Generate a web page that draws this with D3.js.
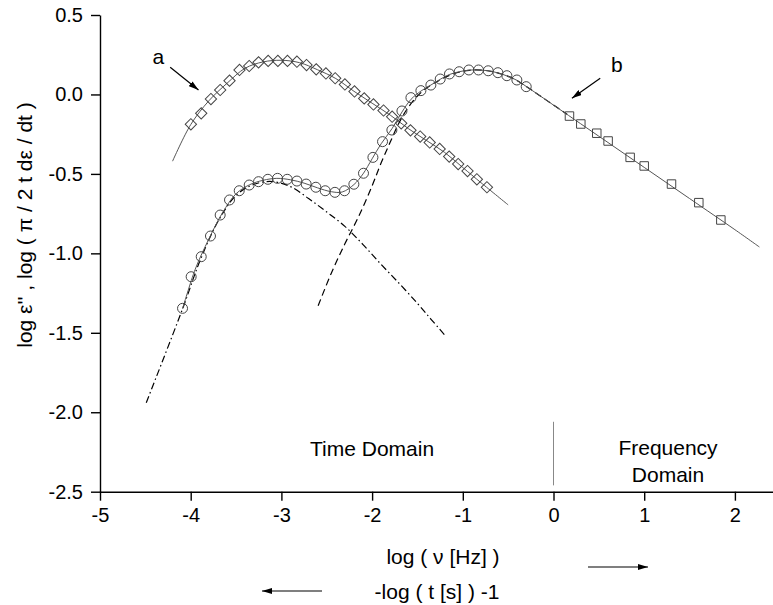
<!DOCTYPE html>
<html>
<head>
<meta charset="utf-8">
<style>
    body { margin: 0; background: #fff; }
    text { font-family: "Liberation Sans", Arial, Helvetica, sans-serif; fill: #000; }
    .axis path, .axis line { stroke: #000; stroke-width: 1.4; }
    .axis text { font-size: 20px; }
</style>
<script src="https://d3js.org/d3.v7.min.js"></script>
</head>
<body>
<div id="chart"></div>
<script>

    // tick labels
    var xTicks = [-5, -4, -3, -2, -1, 0, 1, 2];
    var yTicks = [-2.5, -2.0, -1.5, -1.0, -0.5, 0.0, 0.5];

    // curve a: time domain data (diamonds)
    var diamondX = [-3.998, -3.884, -3.777, -3.675, -3.572, -3.462, -3.355, -3.252, -3.146, -3.039, -2.933,
        -2.829, -2.723, -2.616, -2.509, -2.407, -2.300, -2.194, -2.087, -1.985, -1.874, -1.779, -1.679,
        -1.577, -1.470, -1.365, -1.255, -1.150, -1.051, -0.948, -0.845, -0.734];
    var diamondY = [-0.188, -0.119, -0.029, 0.028, 0.087, 0.154, 0.179, 0.202, 0.211, 0.211, 0.211,
        0.206, 0.185, 0.158, 0.132, 0.102, 0.063, 0.019, -0.025, -0.063, -0.101, -0.140, -0.182,
        -0.226, -0.265, -0.302, -0.343, -0.391, -0.438, -0.482, -0.534, -0.584];

    // curve b: time domain data (circles)
    var circleX = [-4.090, -3.995, -3.884, -3.782, -3.675, -3.572, -3.465, -3.355, -3.252, -3.149, -3.043,
        -2.936, -2.829, -2.727, -2.620, -2.517, -2.410, -2.304, -2.201, -2.095, -1.991, -1.885, -1.782,
        -1.671, -1.572, -1.462, -1.352, -1.249, -1.147, -1.040, -0.933, -0.827, -0.720, -0.613, -0.514,
        -0.404, -0.301];
    var circleY = [-1.346, -1.147, -1.021, -0.891, -0.759, -0.664, -0.606, -0.570, -0.549, -0.534, -0.528,
        -0.534, -0.545, -0.564, -0.584, -0.606, -0.616, -0.606, -0.565, -0.496, -0.396, -0.297, -0.224,
        -0.104, -0.020, 0.024, 0.059, 0.097, 0.129, 0.143, 0.154, 0.154, 0.149, 0.137, 0.118,
        0.091, 0.049];

    // curve b: frequency domain data (squares)
    var squareX = [0.176, 0.301, 0.477, 0.602, 0.845, 1.000, 1.301, 1.602, 1.845];
    var squareY = [-0.136, -0.186, -0.244, -0.293, -0.396, -0.450, -0.564, -0.681, -0.790];

    // fit line through a
    var fitAX = [-4.20, -4.0, -3.8, -3.6, -3.4, -3.2, -3.0, -2.8, -2.6, -2.4, -2.2, -2.0, -1.8, -1.6, -1.4, -1.2, -1.0, -0.8, -0.5];
    var fitAY = [-0.42, -0.19, -0.04, 0.07, 0.165, 0.205, 0.215, 0.20, 0.155, 0.10, 0.02, -0.055, -0.13, -0.215, -0.29, -0.365, -0.46, -0.555, -0.695];

    // fit line through b
    var fitBX = [-4.09, -3.95, -3.8, -3.65, -3.5, -3.35, -3.2, -3.05, -2.9, -2.75, -2.6, -2.45, -2.33, -2.2, -2.1, -2.0,
        -1.9, -1.78, -1.67, -1.57, -1.46, -1.35, -1.25, -1.15, -1.04, -0.93, -0.83, -0.72, -0.61, -0.51, -0.40, -0.30,
        -0.15, 0.0, 0.5, 1.0, 1.5, 2.0, 2.27];
    var fitBY = [-1.35, -1.10, -0.91, -0.745, -0.625, -0.568, -0.54, -0.528, -0.537, -0.558, -0.588, -0.612, -0.614, -0.567, -0.50, -0.405,
        -0.31, -0.215, -0.11, -0.03, 0.022, 0.06, 0.095, 0.125, 0.143, 0.153, 0.154, 0.149, 0.135, 0.116, 0.088, 0.05,
        -0.008, -0.067, -0.263, -0.459, -0.655, -0.851, -0.96];

    // high frequency process (dashed)
    var dashX = [-2.595, -2.45, -2.3, -2.15, -2.0, -1.9, -1.8, -1.7, -1.6, -1.5, -1.4, -1.25, -1.1, -0.93, -0.75, -0.6, -0.45, -0.3, -0.15, 0.0, 0.15];
    var dashY = [-1.33, -1.125, -0.94, -0.77, -0.575, -0.43, -0.30, -0.175, -0.08, -0.01, 0.04, 0.092, 0.13, 0.152, 0.151, 0.133, 0.102, 0.05, -0.008, -0.067, -0.125];

    // low frequency process (dash dot)
    var dashDotX = [-4.49, -4.09, -3.9, -3.7, -3.5, -3.3, -3.1, -2.9, -2.7, -2.5, -2.3, -2.1, -1.9, -1.7, -1.5, -1.35, -1.19];
    var dashDotY = [-1.94, -1.35, -1.05, -0.80, -0.635, -0.565, -0.548, -0.58, -0.655, -0.74, -0.83, -0.945, -1.07, -1.19, -1.315, -1.415, -1.52];

    var width = 773, height = 605;

    var svg = d3.select("#chart")
        .append("svg")
        .attr("width", width)
        .attr("height", height);

    svg.append("defs").append("marker")
        .attr("id", "head")
        .attr("viewBox", "0 0 10 6")
        .attr("refX", 10)
        .attr("refY", 3)
        .attr("markerWidth", 10)
        .attr("markerHeight", 6)
        .attr("markerUnits", "userSpaceOnUse")
        .attr("orient", "auto")
        .append("path")
        .attr("d", "M0,0 L10,3 L0,6 Z")
        .attr("fill", "#000");

    var x = d3.scaleLinear().domain([-5, 2.42]).range([100, 773]);
    var y = d3.scaleLinear().domain([-2.5, 0.5]).range([491.7, 15]);

    function pts(xs, ys) {
        return xs.map(function (d, i) { return [d, ys[i]]; });
    }

    var line = d3.line()
        .x(function (d) { return x(d[0]); })
        .y(function (d) { return y(d[1]); })
        .curve(d3.curveCatmullRom);

    // fitted curves
    svg.append("path").attr("d", line(pts(fitAX, fitAY)))
        .attr("fill", "none").attr("stroke", "#555").attr("stroke-width", 1);
    svg.append("path").attr("d", line(pts(dashDotX, dashDotY)))
        .attr("fill", "none").attr("stroke", "#000").attr("stroke-width", 1.2)
        .attr("stroke-dasharray", "7,3,1.5,3");
    svg.append("path").attr("d", line(pts(dashX, dashY)))
        .attr("fill", "none").attr("stroke", "#000").attr("stroke-width", 1.2)
        .attr("stroke-dasharray", "7,4");
    svg.append("path").attr("d", line(pts(fitBX, fitBY)))
        .attr("fill", "none").attr("stroke", "#555").attr("stroke-width", 1);

    // markers
    svg.append("g").selectAll("path")
        .data(pts(diamondX, diamondY))
        .enter().append("path")
        .attr("d", d3.symbol().type(d3.symbolSquare).size(64))
        .attr("transform", function (d) { return "translate(" + x(d[0]) + "," + y(d[1]) + ") rotate(45)"; })
        .attr("fill", "none").attr("stroke", "#444").attr("stroke-width", 1);

    svg.append("g").selectAll("circle")
        .data(pts(circleX, circleY))
        .enter().append("circle")
        .attr("cx", function (d) { return x(d[0]); })
        .attr("cy", function (d) { return y(d[1]); })
        .attr("r", 5)
        .attr("fill", "none").attr("stroke", "#444").attr("stroke-width", 1);

    svg.append("g").selectAll("path")
        .data(pts(squareX, squareY))
        .enter().append("path")
        .attr("d", d3.symbol().type(d3.symbolSquare).size(72))
        .attr("transform", function (d) { return "translate(" + x(d[0]) + "," + y(d[1]) + ")"; })
        .attr("fill", "none").attr("stroke", "#444").attr("stroke-width", 1);

    // axes
    svg.append("g")
        .attr("class", "axis")
        .attr("transform", "translate(0," + y(-2.5) + ")")
        .call(d3.axisBottom(x).tickValues(xTicks).tickSize(9).tickSizeOuter(0).tickPadding(7)
            .tickFormat(function (d) { return String(d); }));

    svg.append("g")
        .attr("class", "axis")
        .attr("transform", "translate(" + x(-5) + ",0)")
        .call(d3.axisLeft(y).tickValues(yTicks).tickSize(9).tickSizeOuter(0).tickPadding(8)
            .tickFormat(function (d) { return d.toFixed(1); }));

    // domain divider
    svg.append("line")
        .attr("x1", x(0)).attr("x2", x(0))
        .attr("y1", y(-2.06)).attr("y2", y(-2.46))
        .attr("stroke", "#888").attr("stroke-width", 1);

    svg.append("text").attr("x", x(-2)).attr("y", 456)
        .attr("text-anchor", "middle").style("font-size", "21px").text("Time Domain");
    svg.append("text").attr("x", 668).attr("y", 455)
        .attr("text-anchor", "middle").style("font-size", "21px").text("Frequency");
    svg.append("text").attr("x", 668).attr("y", 482)
        .attr("text-anchor", "middle").style("font-size", "21px").text("Domain");

    // curve labels
    svg.append("text").attr("x", x(-4.357)).attr("y", 64)
        .attr("text-anchor", "middle").style("font-size", "21px").text("a");
    svg.append("line")
        .attr("x1", x(-4.226)).attr("y1", y(0.171))
        .attr("x2", x(-3.914)).attr("y2", y(0.028))
        .attr("stroke", "#000").attr("stroke-width", 1.2)
        .attr("marker-end", "url(#head)");

    svg.append("text").attr("x", x(0.699)).attr("y", 72)
        .attr("text-anchor", "middle").style("font-size", "21px").text("b");
    svg.append("line")
        .attr("x1", x(0.515)).attr("y1", y(0.102))
        .attr("x2", x(0.203)).attr("y2", y(-0.024))
        .attr("stroke", "#000").attr("stroke-width", 1.2)
        .attr("marker-end", "url(#head)");

    // axis titles
    svg.append("text").attr("x", 443).attr("y", 564)
        .attr("text-anchor", "middle").style("font-size", "21px").text("log ( \u03bd [Hz] )");
    svg.append("text").attr("x", 437).attr("y", 599)
        .attr("text-anchor", "middle").style("font-size", "21px").text("-log ( t [s] ) -1");

    svg.append("line")
        .attr("x1", 588).attr("y1", 567).attr("x2", 648).attr("y2", 567)
        .attr("stroke", "#000").attr("stroke-width", 1.2).attr("marker-end", "url(#head)");
    svg.append("line")
        .attr("x1", 322).attr("y1", 591).attr("x2", 262).attr("y2", 591)
        .attr("stroke", "#000").attr("stroke-width", 1.2).attr("marker-end", "url(#head)");

    svg.append("text")
        .attr("transform", "translate(32,225) rotate(-90)")
        .attr("text-anchor", "middle").style("font-size", "21px")
        .text("log \u03b5'' , log ( \u03c0 / 2 t d\u03b5 / dt )");

</script>
</body>
</html>
